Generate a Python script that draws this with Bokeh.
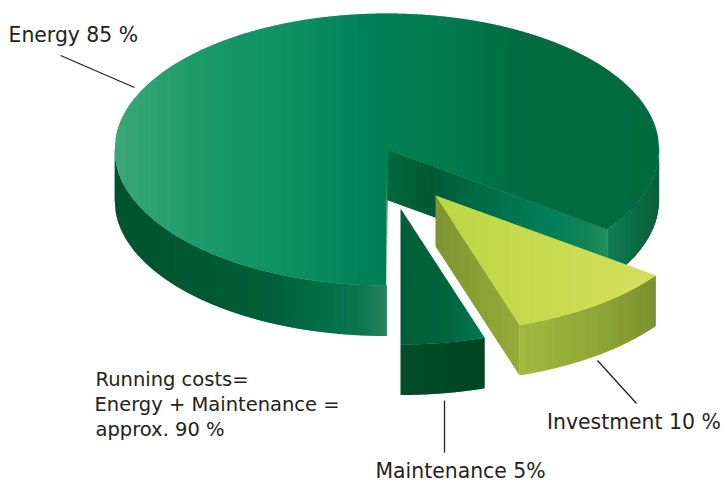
import numpy as np
from bokeh.plotting import figure
from bokeh.embed import file_html
from bokeh.resources import INLINE
from bokeh.core.properties import value

# data
categories = ["Maintenance", "Investment", "Energy"]
shares = [5, 10, 85]

# layout of the pie (page pixels)
CX, CY, RX, RY, DEPTH = 386.4, 149, 272.3, 136, 50.5
OFFSET = {"Energy": (0, 0), "Investment": (48.6, 46), "Maintenance": (13.6, 59)}

# gradients: (x, colour)
G_ENERGY_TOP = [(114, "#3da778"), (200, "#1c9a6b"), (290, "#0f9064"), (370, "#008056"), (450, "#007a50"), (530, "#006a42"), (659, "#006a40")]
G_ENERGY_LEFT = [(114, "#00532f"), (270, "#005f39"), (320, "#006f49"), (360, "#0e7650"), (387, "#2a8560")]
G_ENERGY_RIGHT = [(607, "#077a55"), (640, "#006238"), (659, "#005a34")]
G_ENERGY_CUT = [(387, "#00693f"), (430, "#005a35"), (473, "#006a44"), (513, "#007550"), (550, "#00805a"), (590, "#148558"), (607, "#25905f")]
G_MAINT_TOP = [(400, "#005e38"), (445, "#00643d"), (484, "#007a55")]
G_MAINT_SIDE = [(400, "#004e2a"), (484, "#004522")]
G_INV_TOP = [(435, "#bdd645"), (560, "#c8dc50"), (655, "#d3df5e")]
G_INV_CUT = [(435, "#7e9432"), (519, "#97ab39")]
G_INV_SIDE = [(519, "#a3b93f"), (600, "#8ea636"), (655, "#7d9130")]


def rgb(h):
    return np.array([int(h[i:i + 2], 16) for i in (1, 3, 5)], dtype=float)


def colour(stops, x):
    xs = [s[0] for s in stops]
    cs = np.array([rgb(s[1]) for s in stops])
    return "#%02x%02x%02x" % tuple(int(round(np.interp(x, xs, cs[:, i]))) for i in range(3))


def arc(center, a0, a1, n=240):
    a = np.radians(np.linspace(a0, a1, n))
    return center[0] + RX * np.cos(a), center[1] + RY * np.sin(a)


def span(px, py, x):
    ys = []
    n = len(px)
    for i in range(n):
        x0, x1, y0, y1 = px[i], px[(i + 1) % n], py[i], py[(i + 1) % n]
        if min(x0, x1) <= x <= max(x0, x1) and x0 != x1:
            ys.append(y0 + (y1 - y0) * (x - x0) / (x1 - x0))
    return (min(ys), max(ys)) if ys else None


strips_x, strips_y, strips_c = [], [], []


def shade(px, py, stops, step=1.0):
    px, py = np.asarray(px, float), np.asarray(py, float)
    lo, hi = px.min() + 1e-3, px.max() - 1e-3
    x = lo
    while x < hi:
        x1 = min(x + step + 0.6, hi)
        a, b = span(px, py, x), span(px, py, x1)
        if a and b:
            strips_x.append([x, x1, x1, x])
            strips_y.append([a[0], b[0], b[1], a[1]])
            strips_c.append(colour(stops, x + step / 2))
        x += step


def band(center, a0, a1, stops):
    ax, ay = arc(center, a0, a1)
    shade(np.r_[ax, ax[::-1]], np.r_[ay, ay[::-1] + DEPTH], stops)


deg = {c: s * 3.6 for c, s in zip(categories, shares)}
a_m = 90 - deg["Maintenance"]
a_i = a_m - deg["Investment"]
a_e = a_i - deg["Energy"]

# Energy
c = (CX + OFFSET["Energy"][0], CY + OFFSET["Energy"][1])
band(c, a_i, 0, G_ENERGY_RIGHT)
band(c, 180, 90, G_ENERGY_LEFT)
ex, ey = arc(c, a_i, a_i, 1)
shade([c[0], ex[0], ex[0], c[0]], [c[1], ey[0], ey[0] + DEPTH, c[1] + DEPTH], G_ENERGY_CUT)
ax, ay = arc(c, a_i, a_e)
shade(np.r_[c[0], ax], np.r_[c[1], ay], G_ENERGY_TOP)

# Maintenance
c = (CX + OFFSET["Maintenance"][0], CY + OFFSET["Maintenance"][1])
band(c, a_m, 90, G_MAINT_SIDE)
ax, ay = arc(c, a_m, 90)
shade(np.r_[c[0], ax], np.r_[c[1], ay], G_MAINT_TOP)

# Investment
c = (CX + OFFSET["Investment"][0], CY + OFFSET["Investment"][1])
ex, ey = arc(c, a_m, a_m, 1)
shade([c[0], ex[0], ex[0], c[0]], [c[1], ey[0], ey[0] + DEPTH, c[1] + DEPTH], G_INV_CUT)
band(c, a_i, a_m, G_INV_SIDE)
ax, ay = arc(c, a_m, a_i)
shade(np.r_[c[0], ax], np.r_[c[1], ay], G_INV_TOP)

W, H = 723, 483
p = figure(width=W, height=H, x_range=(0, W), y_range=(H, 0),
           output_backend="svg", toolbar_location=None, min_border=0,
           outline_line_color=None, background_fill_color="white", border_fill_color="white")
p.axis.visible = False
p.grid.visible = False

p.patches(strips_x, strips_y, fill_color=strips_c, line_color=None)

# leader lines
p.segment([60, 597, 444], [55, 360, 400], [134, 636, 444], [87, 403, 452], line_color="#222222", line_width=1.3)

# labels
label_text = ["Energy 85 %", "Investment 10 %", "Maintenance 5%"]
label_x = [8, 546.5, 375]
label_y = [34.5, 421, 470.5]
p.text(label_x, label_y, text=label_text, text_font=value("DejaVu Sans"), text_font_size="20.4px",
       text_color="#222222", text_baseline="alphabetic", text_align="left")
note_text = ["Running costs=", "Energy + Maintenance =", "approx. 90 %"]
note_x = [95, 94, 95]
note_y = [379, 404, 429]
p.text(note_x, note_y, text=note_text, text_font=value("DejaVu Sans"), text_font_size="19.5px",
       text_color="#222222", text_baseline="alphabetic", text_align="left")

open("out.html", "w").write(file_html(p, INLINE))
